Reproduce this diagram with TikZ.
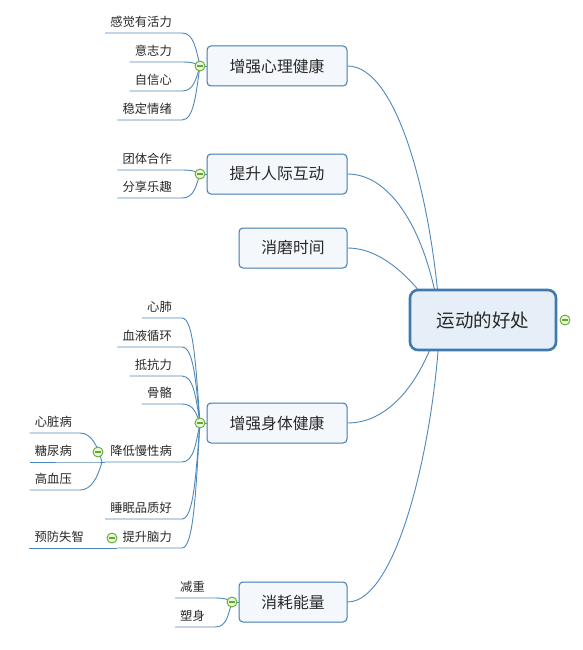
\documentclass[tikz,border=0pt]{standalone}
\usepackage{fontspec}
\newfontfamily\cjk{Noto Sans CJK SC}
\usetikzlibrary{calc}
\pgfdeclarelayer{bg}
\pgfsetlayers{bg,main}
\definecolor{linec}{RGB}{78,135,185}
\definecolor{boxc}{RGB}{62,122,175}
\definecolor{boxfill}{RGB}{244,248,252}
\definecolor{rootfill}{RGB}{230,239,248}
\definecolor{txt}{RGB}{40,40,40}
\definecolor{gc}{RGB}{100,170,50}
\definecolor{gfill}{RGB}{232,245,216}
\tikzset{
  conn/.style={draw=linec, line width=0.9pt},
  rootbox/.style={draw=boxc, fill=rootfill, line width=2.6pt, rounded corners=8pt,
    minimum width=146pt, minimum height=60pt, font=\cjk\fontsize{18.5}{20}\selectfont, text=txt},
  mainbox/.style={draw=boxc, fill=boxfill, line width=1pt, rounded corners=4pt,
    minimum height=40pt, font=\cjk\fontsize{15.8}{18}\selectfont, text=txt},
  leaf/.style={anchor=south east, inner xsep=5pt, inner ysep=4pt, text height=10pt, text depth=2pt,
    font=\cjk\fontsize{12.3}{14}\selectfont, text=txt},
  fold/.style={circle, draw=gc, fill=gfill, line width=0.9pt, minimum size=10pt, inner sep=0pt,
    path picture={\draw[gc, line width=1.3pt] ([xshift=-3pt]path picture bounding box.center) -- ([xshift=3pt]path picture bounding box.center);}}
}
\newcommand\leafline[2]{%
  \draw[conn] (#1) .. controls ($(#1)!0.5!(#1|-#2.south)+(-4,0)$) and ($(#2.south east)+(17,0)$) .. ($(#2.south east)+(5,0)$) -- (#2.south west);}
\begin{document}
\begin{tikzpicture}[x=1pt,y=-1pt]
\useasboundingbox (0,0) rectangle (583,650);
% root and main boxes
\node[rootbox] (root) at (483,320) {运动的好处};
\coordinate (rc) at (440,320);
\node[fold] (rf) at (565,320) {};
\node[mainbox, minimum width=140pt] (m1) at (277,66) {增强心理健康};
\node[mainbox, minimum width=140pt] (m2) at (277,174) {提升人际互动};
\node[mainbox, minimum width=108pt] (m3) at (293,248) {消磨时间};
\node[mainbox, minimum width=140pt] (m4) at (277,423) {增强身体健康};
\node[mainbox, minimum width=108pt] (m5) at (293,602) {消耗能量};
\begin{pgfonlayer}{bg}
\draw[conn] (m1.east) .. controls +(50,0) and +(-8,-120) .. (rc);
\draw[conn] (m2.east) .. controls +(45,0) and +(-12,-85) .. (rc);
\draw[conn] (m3.east) .. controls +(35,0) and +(-25,-40) .. (rc);
\draw[conn] (m4.east) .. controls +(45,0) and +(-15,55) .. (rc);
\draw[conn] (m5.east) .. controls +(50,0) and +(-5,120) .. (rc);
\end{pgfonlayer}
% group 1
\node[leaf] (a1) at (177,33) {感觉有活力};
\node[leaf] (a2) at (177,62) {意志力};
\node[leaf] (a3) at (177,91) {自信心};
\node[leaf] (a4) at (177,120) {稳定情绪};
\coordinate (c1) at (200,66);
\leafline{c1}{a1}\leafline{c1}{a2}\leafline{c1}{a3}\leafline{c1}{a4}
\draw[conn] (c1) -- (m1.west);
\node[fold] (f1) at (c1) {};
% group 2
\node[leaf] (b1) at (177,170) {团体合作};
\node[leaf] (b2) at (177,198) {分享乐趣};
\coordinate (c2) at (200,174);
\leafline{c2}{b1}\leafline{c2}{b2}
\draw[conn] (c2) -- (m2.west);
\node[fold] (f2) at (c2) {};
% group 4
\node[leaf] (d1) at (177,318) {心肺};
\node[leaf] (d2) at (177,347) {血液循环};
\node[leaf] (d3) at (177,376) {抵抗力};
\node[leaf] (d4) at (177,404) {骨骼};
\node[leaf] (d5) at (177,462) {降低慢性病};
\node[leaf] (d6) at (177,519) {睡眠品质好};
\node[leaf] (d7) at (177,548) {提升脑力};
\coordinate (c4) at (200,423);
\leafline{c4}{d1}\leafline{c4}{d2}\leafline{c4}{d3}\leafline{c4}{d4}
\leafline{c4}{d5}\leafline{c4}{d6}\leafline{c4}{d7}
\draw[conn] (c4) -- (m4.west);
\node[fold] (f4) at (c4) {};
% sub of 降低慢性病
\node[leaf] (e1) at (77,433) {心脏病};
\node[leaf] (e2) at (77,462) {糖尿病};
\node[leaf] (e3) at (77,490) {高血压};
\coordinate (cj) at (102,462);
\draw[conn] (d5.south west) -- (cj);
\foreach \e in {e1,e2,e3}{
  \draw[conn] (cj) .. controls ($(cj)!0.5!(cj|-\e.south)+(-4,0)$) and ($(\e.south east)+(15,0)$) .. ($(\e.south east)+(3,0)$) -- (\e.south west);
}
\node[fold] (f5) at (98,452) {};
% sub of 提升脑力
\node[leaf] (g1) at (89,548) {预防失智};
\draw[conn] (d7.south west) -- (g1.south west);
\node[fold] (f6) at (112,538) {};
% group 5
\node[leaf] (h1) at (210,598) {减重};
\node[leaf] (h2) at (210,627) {塑身};
\coordinate (c5) at (232,602);
\leafline{c5}{h1}\leafline{c5}{h2}
\draw[conn] (c5) -- (m5.west);
\node[fold] (f7) at (c5) {};
\end{tikzpicture}
\end{document}
